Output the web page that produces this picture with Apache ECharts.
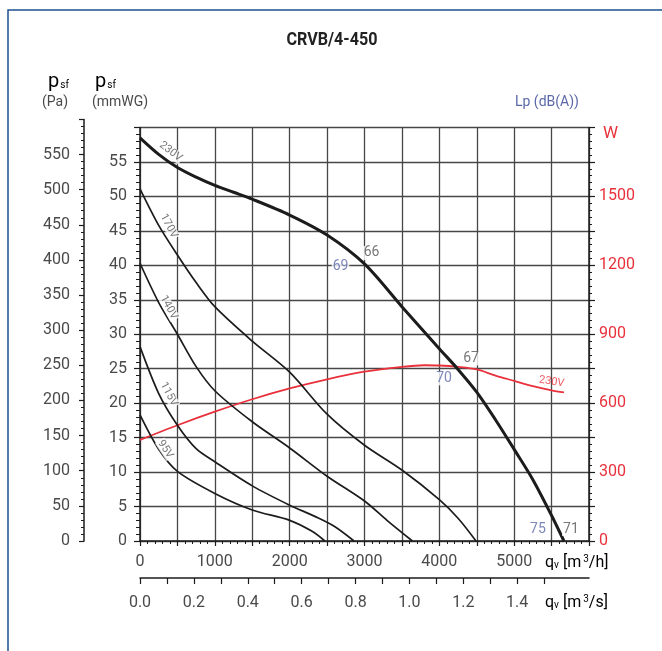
<!DOCTYPE html>
<html>
<head>
<meta charset="utf-8">
<title>CRVB/4-450</title>
<script src="https://cdn.jsdelivr.net/npm/echarts@6/dist/echarts.min.js"></script>
<style>
  html, body { margin: 0; padding: 0; background: #fff; }
  #chart { width: 662px; height: 651px; }
</style>
</head>
<body>
<div id="chart"></div>
<script>
// Fan curves: static pressure p_sf (mmWG) against airflow q_v (m³/h) per supply voltage
const q230 = [0, 250, 500, 750, 1000, 1250, 1500, 2000, 2500, 3000, 3500, 4000, 4250, 4500, 4750, 5000, 5250, 5500, 5665];
const p230 = [58.5, 56.1, 54.2, 52.8, 51.6, 50.6, 49.6, 47.3, 44.4, 40.2, 34.0, 27.9, 24.9, 21.6, 17.6, 13.3, 8.9, 3.7, 0];

const q170 = [0, 250, 500, 750, 1000, 1500, 2000, 2500, 3000, 3500, 4000, 4250, 4490];
const p170 = [51.1, 45.8, 41.5, 37.5, 34.0, 29.0, 24.5, 18.4, 13.9, 10.3, 6.0, 3.3, 0];

const q140 = [0, 250, 500, 750, 1000, 1500, 2000, 2500, 3000, 3300, 3640];
const p140 = [40.3, 34.6, 30.0, 25.3, 21.8, 17.3, 13.5, 9.4, 5.8, 3.0, 0];

const q115 = [0, 250, 500, 750, 1000, 1500, 2000, 2350, 2600, 2860];
const p115 = [28.2, 21.4, 16.8, 13.4, 11.5, 8.0, 5.2, 3.5, 2.1, 0];

const q95 = [0, 250, 500, 1000, 1500, 2000, 2300, 2470];
const p95 = [18.3, 13.3, 10.1, 6.9, 4.5, 3.0, 1.4, 0];

// Absorbed power at 230V (W)
const qPower = [0, 500, 1000, 1500, 2000, 2500, 3000, 3500, 3800, 4000, 4250, 4500, 4750, 5000, 5250, 5500, 5665];
const wPower = [440, 504, 563, 617, 664, 704, 737, 758, 765, 764, 758, 747, 720, 697, 674, 656, 647];

// Sound levels Lp dB(A) at three operating points of the 230V curve
const noiseQ = [3000, 4250, 5665];
const noiseP = [40.2, 24.9, 0];
const lpOutlet = ['66', '67', '71'];
const lpInlet = ['69', '70', '75'];

// Voltage names
const voltages = ['230V', '170V', '140V', '115V', '95V'];

// Tick labels of the secondary flow scale (m³/s)
const flowSecLabels = [0, 0.2, 0.4, 0.6, 0.8, 1.0, 1.2, 1.4];
const flowSecTicks = [0, 0.1, 0.2, 0.3, 0.4, 0.5, 0.6, 0.7, 0.8, 0.9, 1.0, 1.1, 1.2, 1.3, 1.4, 1.5];

const FONT = 'Roboto, "Noto Sans", sans-serif';
const INK = '#1c1c1c';
const GRID = '#474747';
const TXT = '#4a4a4a';
const RED = '#e8313b';
const BLUE = '#5a68a8';
const FRAME = '#1d5190';

const pairs = (xs, ys) => xs.map((x, i) => [x, ys[i]]);

const chart = echarts.init(document.getElementById('chart'), null, { renderer: 'canvas' });

const tickLabel = { color: TXT, fontSize: 16, fontFamily: FONT };

function curve(name, xs, ys, width) {
  return {
    name, type: 'line', xAxisIndex: 0, yAxisIndex: 0,
    data: pairs(xs, ys), smooth: 0.3, symbol: 'none', silent: true, z: 5,
    lineStyle: { color: INK, width }
  };
}

// Rotated voltage tag placed beside a curve
function voltTag(text, q, p, angle) {
  return {
    value: [q, p],
    label: { formatter: text, rotate: angle }
  };
}

function noiseTags(labels, color, offsets) {
  return labels.map((t, i) => ({
    value: [noiseQ[i], noiseP[i]],
    label: { formatter: t, color, offset: offsets[i] }
  }));
}

const option = {
  animation: false,
  backgroundColor: '#fff',
  grid: [
    { left: 140, top: 127.5, width: 449, height: 413.5 },
    { left: 84, top: 119.4, width: 1, height: 421.6 },
    { left: 140, top: 577, width: 449, height: 1 }
  ],
  xAxis: [
    {
      gridIndex: 0, type: 'value', min: 0, max: 6000, interval: 500,
      axisLine: { show: true, onZero: false, lineStyle: { color: INK, width: 1.5 } },
      axisTick: { show: true, length: 5, lineStyle: { color: INK, width: 1.2 } },
      minorTick: { show: true, splitNumber: 5, length: 3, lineStyle: { color: INK, width: 1 } },
      splitLine: { show: true, lineStyle: { color: GRID, width: 1.3 } },
      axisLabel: Object.assign({}, tickLabel, {
        margin: 13,
        formatter: v => (v % 1000 === 0 && v < 6000) ? String(v) : ''
      })
    },
    { gridIndex: 1, type: 'value', show: false, min: 0, max: 1 },
    {
      gridIndex: 2, type: 'value', min: 0, max: 6000 / 3600, interval: 0.1,
      axisLine: { show: true, onZero: false, lineStyle: { color: INK, width: 1.5 } },
      axisTick: { show: true, length: 6, customValues: flowSecTicks, lineStyle: { color: INK, width: 1.2 } },
      splitLine: { show: false },
      axisLabel: Object.assign({}, tickLabel, {
        margin: 17,
        customValues: flowSecLabels,
        formatter: v => v.toFixed(1)
      })
    }
  ],
  yAxis: [
    {
      gridIndex: 0, type: 'value', min: 0, max: 60, interval: 5, position: 'left',
      axisLine: { show: true, onZero: false, lineStyle: { color: INK, width: 1.5 } },
      axisTick: { show: true, length: 6, lineStyle: { color: INK, width: 1.2 } },
      minorTick: { show: true, splitNumber: 5, length: 4, lineStyle: { color: INK, width: 1 } },
      splitLine: { show: true, lineStyle: { color: GRID, width: 1.3 } },
      axisLabel: Object.assign({}, tickLabel, {
        margin: 13,
        formatter: v => v < 60 ? String(v) : ''
      })
    },
    {
      gridIndex: 0, type: 'value', min: 0, max: 1800, interval: 150, position: 'right',
      axisLine: { show: true, onZero: false, lineStyle: { color: INK, width: 1.5 } },
      axisTick: { show: true, length: 6, lineStyle: { color: INK, width: 1.2 } },
      minorTick: { show: true, splitNumber: 5, length: 3, lineStyle: { color: INK, width: 1 } },
      splitLine: { show: false },
      axisLabel: Object.assign({}, tickLabel, {
        color: RED, margin: 10,
        formatter: v => (v % 300 === 0 && v < 1800) ? String(v) : ''
      })
    },
    {
      gridIndex: 1, type: 'value', min: 0, max: 600, interval: 50, position: 'left',
      axisLine: { show: true, onZero: false, lineStyle: { color: INK, width: 1.5 } },
      axisTick: { show: true, length: 5, lineStyle: { color: INK, width: 1.2 } },
      minorTick: { show: true, splitNumber: 5, length: 3, lineStyle: { color: INK, width: 1 } },
      splitLine: { show: false },
      axisLabel: Object.assign({}, tickLabel, {
        margin: 14,
        formatter: v => v < 600 ? String(v) : ''
      })
    },
    { gridIndex: 2, type: 'value', show: false, min: 0, max: 1 }
  ],
  series: [
    curve(voltages[0], q230, p230, 3),
    curve(voltages[1], q170, p170, 1.7),
    curve(voltages[2], q140, p140, 1.7),
    curve(voltages[3], q115, p115, 1.7),
    curve(voltages[4], q95, p95, 1.7),
    {
      name: 'W 230V', type: 'line', xAxisIndex: 0, yAxisIndex: 1,
      data: pairs(qPower, wPower), smooth: 0.3, symbol: 'none', silent: true, z: 4,
      lineStyle: { color: RED, width: 1.8 }
    },
    // voltage tags along the pressure curves
    {
      type: 'scatter', xAxisIndex: 0, yAxisIndex: 0, symbolSize: 1, silent: true, z: 8,
      itemStyle: { color: 'rgba(0,0,0,0)' },
      label: {
        show: true, position: 'inside', color: '#555', fontSize: 11, fontFamily: FONT,
        backgroundColor: '#fff', padding: [0, 1]
      },
      data: [
        voltTag(voltages[0], 410, 56.5, -38),
        voltTag(voltages[1], 385, 45.7, -62),
        voltTag(voltages[2], 385, 33.9, -62),
        voltTag(voltages[3], 385, 21.3, -62),
        voltTag(voltages[4], 340, 13.3, -57)
      ]
    },
    // tag of the power curve
    {
      type: 'scatter', xAxisIndex: 0, yAxisIndex: 1, symbolSize: 1, silent: true, z: 8,
      itemStyle: { color: 'rgba(0,0,0,0)' },
      label: {
        show: true, position: 'inside', color: RED, fontSize: 11, fontFamily: FONT
      },
      data: [voltTag(voltages[0], 5500, 693, -9)]
    },
    // sound levels, outlet (grey) and inlet (blue)
    {
      type: 'scatter', xAxisIndex: 0, yAxisIndex: 0, symbolSize: 1, silent: true, z: 9,
      itemStyle: { color: 'rgba(0,0,0,0)' },
      label: {
        show: true, position: 'inside', fontSize: 14, fontFamily: FONT,
        backgroundColor: '#fff', padding: [0, 1]
      },
      data: noiseTags(lpOutlet, '#555', [[7, -11], [13, -11], [7, -12]])
        .concat(noiseTags(lpInlet, BLUE, [[-24, 3], [-14, 9], [-26, -12]]))
    }
  ],
  graphic: [
    {
      type: 'polyline', silent: true, z: 100,
      shape: { points: [[8, 651], [8, 10], [662, 10]] },
      style: { stroke: FRAME, lineWidth: 1.5, fill: null }
    },
    {
      type: 'text', x: 332, y: 40, scaleX: 0.85, silent: true,
      style: {
        text: 'CRVB/4-450', font: 'bold 19px ' + FONT, fill: '#222',
        align: 'center', verticalAlign: 'middle'
      }
    },
    {
      type: 'text', x: 48, y: 82, silent: true,
      style: {
        text: '{p|p}{s|sf}', verticalAlign: 'middle',
        rich: {
          p: { fontSize: 20, fontFamily: FONT, color: TXT },
          s: { fontSize: 10, fontFamily: FONT, color: TXT, padding: [6, 0, 0, 1] }
        }
      }
    },
    {
      type: 'text', x: 42, y: 102, silent: true,
      style: { text: '(Pa)', font: '14px ' + FONT, fill: TXT, verticalAlign: 'middle' }
    },
    {
      type: 'text', x: 95, y: 82, silent: true,
      style: {
        text: '{p|p}{s|sf}', verticalAlign: 'middle',
        rich: {
          p: { fontSize: 20, fontFamily: FONT, color: TXT },
          s: { fontSize: 10, fontFamily: FONT, color: TXT, padding: [6, 0, 0, 1] }
        }
      }
    },
    {
      type: 'text', x: 92, y: 102, silent: true,
      style: { text: '(mmWG)', font: '14px ' + FONT, fill: TXT, verticalAlign: 'middle' }
    },
    {
      type: 'text', x: 515, y: 102, silent: true,
      style: { text: 'Lp (dB(A))', font: '14px ' + FONT, fill: BLUE, verticalAlign: 'middle' }
    },
    {
      type: 'text', x: 603, y: 134, silent: true,
      style: { text: 'W', font: '17px ' + FONT, fill: RED, verticalAlign: 'middle' }
    },
    {
      type: 'text', x: 545, y: 563, silent: true,
      style: {
        text: '{t|q}{s|v}{t| [m}{u|3}{t|/h]}', verticalAlign: 'middle',
        rich: {
          t: { fontSize: 16, fontFamily: FONT, color: TXT },
          s: { fontSize: 10, fontFamily: FONT, color: TXT, padding: [5, 0, 0, 0] },
          u: { fontSize: 10, fontFamily: FONT, color: TXT, padding: [0, 0, 7, 2] }
        }
      }
    },
    {
      type: 'text', x: 545, y: 603, silent: true,
      style: {
        text: '{t|q}{s|v}{t| [m}{u|3}{t|/s]}', verticalAlign: 'middle',
        rich: {
          t: { fontSize: 16, fontFamily: FONT, color: TXT },
          s: { fontSize: 10, fontFamily: FONT, color: TXT, padding: [5, 0, 0, 0] },
          u: { fontSize: 10, fontFamily: FONT, color: TXT, padding: [0, 0, 7, 2] }
        }
      }
    }
  ]
};

chart.setOption(option);
</script>
</body>
</html>
